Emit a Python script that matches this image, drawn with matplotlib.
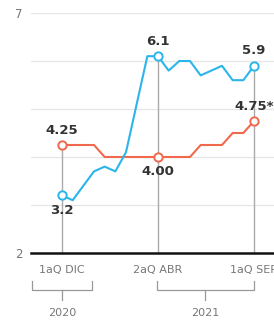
import matplotlib
matplotlib.use("Agg")
import matplotlib.pyplot as plt
import matplotlib.transforms as mtransforms

# quincenas: 1aQ DIC 2020 ... 1aQ SEP 2021
blue_vals = [3.2, 3.1, 3.4, 3.7, 3.8, 3.7, 4.1, 5.1, 6.1, 6.1,
             5.8, 6.0, 6.0, 5.7, 5.8, 5.9, 5.6, 5.6, 5.9]
red_vals = [4.25, 4.25, 4.25, 4.25, 4.0, 4.0, 4.0, 4.0, 4.0, 4.0,
            4.0, 4.0, 4.0, 4.25, 4.25, 4.25, 4.5, 4.5, 4.75]
tick_idx = [0, 9, 18]
tick_labels = ["1aQ DIC", "2aQ ABR", "1aQ SEP"]
blue_labels = ["3.2", "6.1", "5.9"]
red_labels = ["4.25", "4.00", "4.75*"]
years = ["2020", "2021"]

BLUE = "#2bb5ea"
RED = "#f0694c"
LBL = ["Liberation Sans Narrow", "DejaVu Sans"]

fig = plt.figure(figsize=(2.74, 3.26), dpi=100)
ax = fig.add_axes([31/274, 1 - 253/326, 243/274, 240/326])

x = list(range(len(blue_vals)))
ax.set_xlim(-2.906, 19.875)
ax.set_ylim(2, 7)

for g in [3, 4, 5, 6, 7]:
    ax.axhline(g, color="#e6e6e6", lw=0.9, zorder=0)
ax.axhline(2, color="#111111", lw=1.8, zorder=5, clip_on=False)

# vertical guides
for i in tick_idx:
    top = max(blue_vals[i], red_vals[i])
    ax.plot([i, i], [2, top], color="#aaaaaa", lw=1.0, zorder=1)

ax.plot(x, red_vals, color=RED, lw=1.5, zorder=3, solid_joinstyle="round")
ax.plot(x, blue_vals, color=BLUE, lw=1.5, zorder=3, solid_joinstyle="round")
for i in tick_idx:
    ax.plot(i, red_vals[i], "o", ms=6, mfc="white", mec=RED, mew=1.4, zorder=4)
    ax.plot(i, blue_vals[i], "o", ms=6, mfc="white", mec=BLUE, mew=1.4, zorder=4)

# value labels
kw = dict(fontsize=9.5, fontweight="bold", color="#333333", family=LBL, ha="center")
ax.annotate(red_labels[0], (0, red_vals[0]), xytext=(0, 6), textcoords="offset points", va="bottom", **kw)
ax.annotate(blue_labels[0], (0, blue_vals[0]), xytext=(0, -6), textcoords="offset points", va="top", **kw)
ax.annotate(blue_labels[1], (9, blue_vals[9]), xytext=(0, 6), textcoords="offset points", va="bottom", **kw)
ax.annotate(red_labels[1], (9, red_vals[9]), xytext=(0, -6), textcoords="offset points", va="top", **kw)
ax.annotate(blue_labels[2], (18, blue_vals[18]), xytext=(0, 6), textcoords="offset points", va="bottom", **kw)
ax.annotate(red_labels[2], (18, red_vals[18]), xytext=(0, 6), textcoords="offset points", va="bottom", **kw)

for s in ax.spines.values():
    s.set_visible(False)
ax.set_yticks([2, 7])
ax.set_yticklabels(["2", "7"], color="#777777", fontsize=8.5)
ax.tick_params(axis="y", length=0, pad=6)
ax.set_xticks([])

trans = mtransforms.blended_transform_factory(ax.transData, ax.transAxes)
for i, lab in zip(tick_idx, tick_labels):
    ax.text(i, -0.07, lab, transform=trans, ha="center", va="center",
            fontsize=8, color="#777777", clip_on=False)

# year brackets
bk = dict(color="#999999", lw=0.9, transform=trans, clip_on=False)
for (x0, x1, xc), yr in zip([(-2.81, 2.81, 0), (8.9, 18, 13.45)], years):
    ax.plot([x0, x0, x1, x1], [-0.117, -0.154, -0.154, -0.117], **bk)
    ax.plot([xc, xc], [-0.154, -0.196], **bk)
    ax.text(xc, -0.25, yr, transform=trans, ha="center", va="center",
            fontsize=8, color="#777777", clip_on=False)

fig.savefig("out.png", dpi=100)
